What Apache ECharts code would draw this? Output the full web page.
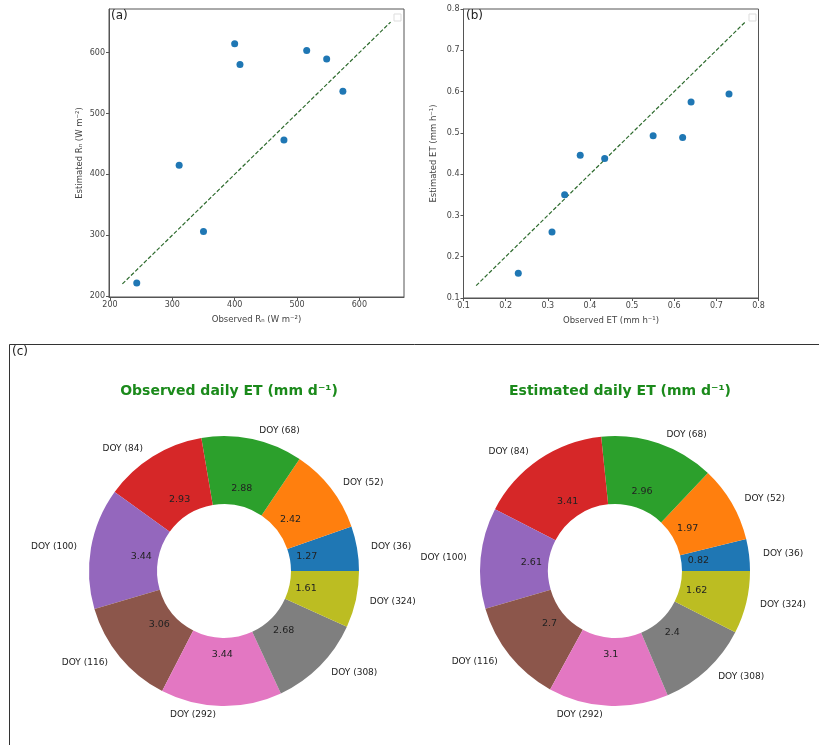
<!DOCTYPE html>
<html><head><meta charset="utf-8">
<script src="https://cdn.jsdelivr.net/npm/echarts@6/dist/echarts.min.js"></script>
<style>html,body{margin:0;padding:0;background:#fff}#c{width:819px;height:745px}</style>
</head><body><div id="c"></div>
<script>
// ---- data ----
const rnObserved  = [243, 311, 350, 400, 408.5, 479, 515.5, 547.5, 573.5];
const rnEstimated = [221.5, 415, 306, 614.5, 580.5, 456.5, 603.5, 589.5, 536.5];
const rnTicks = [200, 300, 400, 500, 600];
const rnLine = [220, 650];
const etObserved  = [0.23, 0.31, 0.34, 0.377, 0.435, 0.55, 0.62, 0.64, 0.73];
const etEstimated = [0.16, 0.26, 0.35, 0.446, 0.438, 0.493, 0.489, 0.575, 0.594];
const etTicks = [0.1, 0.2, 0.3, 0.4, 0.5, 0.6, 0.7, 0.8];
const etLine = [0.13, 0.77];
const doyLabels = ['DOY (36)', 'DOY (52)', 'DOY (68)', 'DOY (84)', 'DOY (100)', 'DOY (116)', 'DOY (292)', 'DOY (308)', 'DOY (324)'];
const dailyObserved  = [1.27, 2.42, 2.88, 2.93, 3.44, 3.06, 3.44, 2.68, 1.61];
const dailyEstimated = [0.82, 1.97, 2.96, 3.41, 2.61, 2.7, 3.1, 2.4, 1.62];
const sliceColors = ['#1f77b4', '#ff7f0e', '#2ca02c', '#d62728', '#9467bd', '#8c564b', '#e377c2', '#7f7f7f', '#bcbd22'];

// ---- helpers ----
const FONT = 'DejaVu Sans';
const axisCol = '#555';
const txtCol = '#444';
function pairs(xs, ys) { return xs.map((x, i) => [x, ys[i]]); }
function valueAxis(gridIndex, min, max, ticks, name, nameGap) {
  return {
    type: 'value', gridIndex, min, max,
    name, nameLocation: 'middle', nameGap,
    nameTextStyle: { fontFamily: FONT, fontSize: 8.5, color: txtCol },
    axisLine: { show: true, onZero: false, lineStyle: { color: axisCol, width: 1 } },
    axisTick: { show: true, length: 3, customValues: ticks, lineStyle: { color: axisCol } },
    axisLabel: { customValues: ticks, fontFamily: FONT, fontSize: 8, color: txtCol, margin: 4,
      formatter: v => (Math.abs(v) < 5 ? v.toFixed(1) : String(Math.round(v))) },
    splitLine: { show: false }
  };
}
function pieData(vals) {
  return vals.map((v, i) => ({ name: doyLabels[i], value: v, itemStyle: { color: sliceColors[i] } }));
}
function ringSeries(center, vals) {
  return {
    type: 'pie', center, radius: [67, 135], startAngle: 0, clockwise: false,
    avoidLabelOverlap: false, animation: false, silent: true,
    label: { show: true, position: 'outside', formatter: '{b}', fontFamily: FONT, fontSize: 9, color: '#222' },
    labelLine: { show: false, length: 9, length2: 0 },
    labelLayout: { hideOverlap: false },
    itemStyle: { borderWidth: 0 },
    emphasis: { disabled: true },
    data: pieData(vals)
  };
}
function valueLabelSeries(center, vals) {
  return {
    type: 'pie', center, radius: [0, 162], startAngle: 0, clockwise: false,
    avoidLabelOverlap: false, animation: false, silent: true, z: 5,
    label: { show: true, position: 'inside', formatter: '{c}', fontFamily: FONT, fontSize: 9.5, color: '#222' },
    labelLine: { show: false },
    itemStyle: { color: 'rgba(0,0,0,0)', borderWidth: 0 },
    emphasis: { disabled: true },
    data: vals.map((v, i) => ({ name: doyLabels[i], value: v }))
  };
}

const chart = echarts.init(document.getElementById('c'), null, { renderer: 'canvas' });
const pieC1 = [224, 571], pieC2 = [615, 571];
chart.setOption({
  backgroundColor: '#fff',
  animation: false,
  title: [
    { text: 'Observed daily ET (mm d⁻¹)', left: pieC1[0], top: 379, textAlign: 'center',
      textStyle: { fontFamily: FONT, fontWeight: 'bold', fontSize: 14, color: '#1b8a1b' } },
    { text: 'Estimated daily ET (mm d⁻¹)', left: pieC2[0], top: 379, textAlign: 'center',
      textStyle: { fontFamily: FONT, fontWeight: 'bold', fontSize: 14, color: '#1b8a1b' } }
  ],
  grid: [
    { left: 109, top: 9, width: 295, height: 288, show: true, borderColor: axisCol, borderWidth: 1 },
    { left: 463.5, top: 9, width: 295, height: 289, show: true, borderColor: axisCol, borderWidth: 1 }
  ],
  xAxis: [
    valueAxis(0, 198.5, 671.5, rnTicks, 'Observed Rₙ (W m⁻²)', 18),
    valueAxis(1, 0.1, 0.8, etTicks, 'Observed ET (mm h⁻¹)', 18)
  ],
  yAxis: [
    valueAxis(0, 198.5, 671.5, rnTicks, 'Estimated Rₙ (W m⁻²)', 25),
    valueAxis(1, 0.1, 0.8, etTicks, 'Estimated ET (mm h⁻¹)', 25)
  ],
  series: [
    { type: 'line', xAxisIndex: 0, yAxisIndex: 0, data: pairs(rnLine, rnLine), symbol: 'none', silent: true,
      lineStyle: { color: '#2e6b2e', width: 1.2, type: [4, 2] } },
    { type: 'scatter', xAxisIndex: 0, yAxisIndex: 0, data: pairs(rnObserved, rnEstimated), symbolSize: 7,
      itemStyle: { color: '#1f77b4', opacity: 1 }, z: 3 },
    { type: 'line', xAxisIndex: 1, yAxisIndex: 1, data: pairs(etLine, etLine), symbol: 'none', silent: true,
      lineStyle: { color: '#2e6b2e', width: 1.2, type: [4, 2] } },
    { type: 'scatter', xAxisIndex: 1, yAxisIndex: 1, data: pairs(etObserved, etEstimated), symbolSize: 7,
      itemStyle: { color: '#1f77b4', opacity: 1 }, z: 3 },
    ringSeries(pieC1, dailyObserved),
    valueLabelSeries(pieC1, dailyObserved),
    ringSeries(pieC2, dailyEstimated),
    valueLabelSeries(pieC2, dailyEstimated)
  ],
  graphic: [
    { type: 'text', left: 111, top: 10, style: { text: '(a)', font: '12px "DejaVu Sans"', fill: '#222' } },
    { type: 'text', left: 466, top: 10, style: { text: '(b)', font: '12px "DejaVu Sans"', fill: '#222' } },
    { type: 'rect', shape: { x: 394, y: 14, width: 7, height: 7 }, style: { fill: '#fff', stroke: '#ddd', lineWidth: 1 } },
    { type: 'rect', shape: { x: 749, y: 14, width: 7, height: 7 }, style: { fill: '#fff', stroke: '#ddd', lineWidth: 1 } },
    { type: 'polyline', shape: { points: [[9.5, 745], [9.5, 344.5], [819, 344.5]] }, style: { stroke: '#333', lineWidth: 1, fill: null } },
    { type: 'text', left: 12, top: 346, style: { text: '(c)', font: '12px "DejaVu Sans"', fill: '#222' } }
  ]
});
</script>
</body></html>
